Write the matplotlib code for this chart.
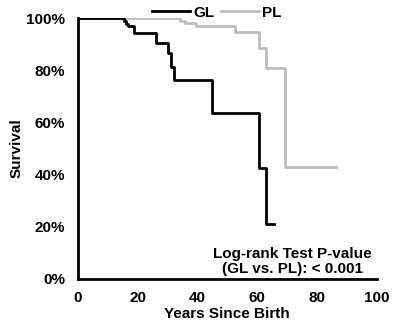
import matplotlib
matplotlib.use('Agg')
import matplotlib.pyplot as plt
from matplotlib.ticker import PercentFormatter

plt.rcParams['font.family'] = ['Liberation Sans', 'DejaVu Sans']
plt.rcParams['font.weight'] = 'bold'

# Kaplan-Meier steps
gl_years = [0, 15.5, 16.0, 16.8, 18.8, 26.3, 30.2, 31.1, 32.2, 45.0, 60.5, 62.8, 65.7]
gl_surv = [100, 98.9, 97.9, 96.8, 94.1, 90.5, 86.5, 81.4, 76.2, 63.5, 42.4, 21.0, 21.0]

pl_years = [0, 34.1, 35.8, 39.5, 52.6, 60.5, 63.0, 69.2, 86.2]
pl_surv = [100, 99.0, 98.0, 96.8, 94.5, 88.4, 80.7, 42.8, 42.8]

x_ticks = [0, 20, 40, 60, 80, 100]
y_ticks = [0, 20, 40, 60, 80, 100]

fs = 11

fig = plt.figure(figsize=(3.93, 3.22), dpi=100)
ax = fig.add_axes([0.198, 0.134, 0.761, 0.81])

ax.step(pl_years, pl_surv, where='post', color='#bdbdbd', linewidth=2, label='PL')
ax.step(gl_years, gl_surv, where='post', color='black', linewidth=2, label='GL')

ax.set_xlim(0, 100)
ax.set_ylim(0, 100)
ax.set_xticks(x_ticks)
ax.set_yticks(y_ticks)
ax.yaxis.set_major_formatter(PercentFormatter(decimals=0))
ax.tick_params(length=0, labelsize=fs, pad=9)
ax.tick_params(axis='x', pad=9)

for s in ['top', 'right']:
    ax.spines[s].set_visible(False)
for s in ['left', 'bottom']:
    ax.spines[s].set_linewidth(2)
    ax.spines[s].set_color('black')

ax.set_xlabel('Years Since Birth', fontsize=fs, fontweight='bold', labelpad=1)
ax.set_ylabel('Survival', fontsize=fs, fontweight='bold', labelpad=2)

handles, labels = ax.get_legend_handles_labels()
ax.legend(handles[::-1], labels[::-1], ncol=2, frameon=False, loc='center',
          bbox_to_anchor=(0.465, 1.02), fontsize=fs, handlelength=2.5,
          columnspacing=0.45, handletextpad=0.2, borderaxespad=0)

ax.text(0.717, 0.067, 'Log-rank Test P-value\n(GL vs. PL): < 0.001', transform=ax.transAxes,
        ha='center', va='center', fontsize=fs, fontweight='bold', linespacing=1.1)

plt.savefig('out.png', dpi=100)
